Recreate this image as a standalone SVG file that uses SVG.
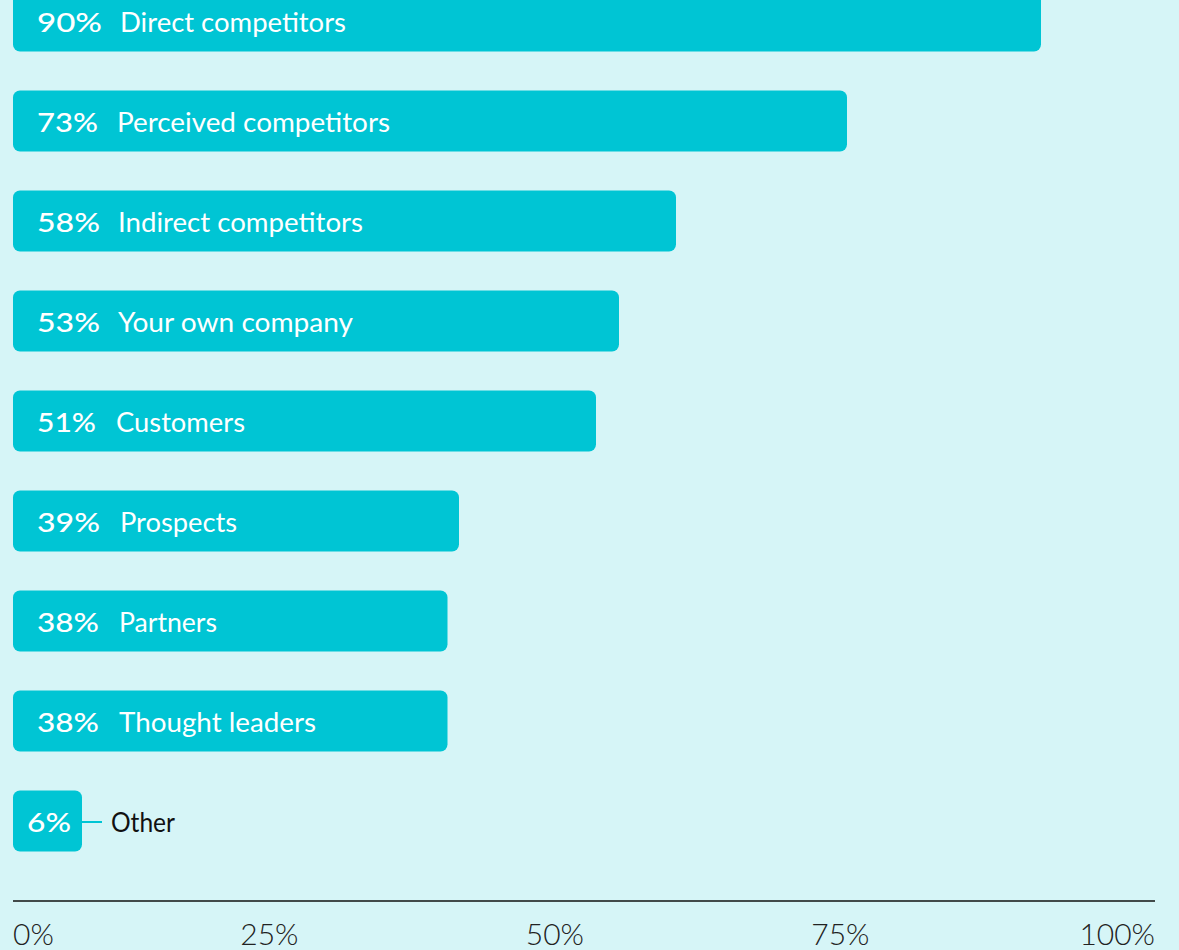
<svg xmlns="http://www.w3.org/2000/svg" width="1179" height="950" viewBox="0 0 1179 950">
<style>
.bg{fill:#d6f5f7}
.bar{fill:#00c5d4}
.pct{font-family:Lato,"Open Sans","Liberation Sans",sans-serif;font-size:27px;font-weight:500;fill:#ffffff}
.lbl{font-family:Lato,"Open Sans","Liberation Sans",sans-serif;font-size:26px;font-weight:400;fill:#ffffff}
.dark{fill:#111111}
.tick{font-family:Lato,"Open Sans","Liberation Sans",sans-serif;font-size:30px;font-weight:300;fill:#222222}
</style>
<rect class="bg" x="0" y="0" width="1179" height="950"/>
<g id="bar-direct"><rect class="bar" x="13" y="-9.5" width="1028" height="61" rx="7"/><text class="pct" x="37" y="31.5" textLength="65" lengthAdjust="spacingAndGlyphs">90%</text><text class="lbl" x="120" y="31.5" textLength="226" lengthAdjust="spacingAndGlyphs">Direct competitors</text></g>
<g id="bar-perceived"><rect class="bar" x="13" y="90.5" width="834" height="61" rx="7"/><text class="pct" x="37" y="131.5" textLength="61" lengthAdjust="spacingAndGlyphs">73%</text><text class="lbl" x="117" y="131.5" textLength="273" lengthAdjust="spacingAndGlyphs">Perceived competitors</text></g>
<g id="bar-indirect"><rect class="bar" x="13" y="190.5" width="663" height="61" rx="7"/><text class="pct" x="37" y="231.5" textLength="63" lengthAdjust="spacingAndGlyphs">58%</text><text class="lbl" x="118" y="231.5" textLength="245" lengthAdjust="spacingAndGlyphs">Indirect competitors</text></g>
<g id="bar-own"><rect class="bar" x="13" y="290.5" width="606" height="61" rx="7"/><text class="pct" x="37" y="331.5" textLength="63" lengthAdjust="spacingAndGlyphs">53%</text><text class="lbl" x="118" y="331.5" textLength="235" lengthAdjust="spacingAndGlyphs">Your own company</text></g>
<g id="bar-customers"><rect class="bar" x="13" y="390.5" width="583" height="61" rx="7"/><text class="pct" x="37" y="431.5" textLength="59" lengthAdjust="spacingAndGlyphs">51%</text><text class="lbl" x="116" y="431.5" textLength="129" lengthAdjust="spacingAndGlyphs">Customers</text></g>
<g id="bar-prospects"><rect class="bar" x="13" y="490.5" width="446" height="61" rx="7"/><text class="pct" x="37" y="531.5" textLength="63" lengthAdjust="spacingAndGlyphs">39%</text><text class="lbl" x="120" y="531.5" textLength="117" lengthAdjust="spacingAndGlyphs">Prospects</text></g>
<g id="bar-partners"><rect class="bar" x="13" y="590.5" width="434.5" height="61" rx="7"/><text class="pct" x="37" y="631.5" textLength="62" lengthAdjust="spacingAndGlyphs">38%</text><text class="lbl" x="119" y="631.5" textLength="98" lengthAdjust="spacingAndGlyphs">Partners</text></g>
<g id="bar-thought"><rect class="bar" x="13" y="690.5" width="434.5" height="61" rx="7"/><text class="pct" x="37" y="731.5" textLength="62" lengthAdjust="spacingAndGlyphs">38%</text><text class="lbl" x="119" y="731.5" textLength="197" lengthAdjust="spacingAndGlyphs">Thought leaders</text></g>
<g id="bar-other"><rect class="bar" x="13" y="790.5" width="69" height="61" rx="7"/><text class="pct" x="27" y="831.5" textLength="44" lengthAdjust="spacingAndGlyphs">6%</text><text class="lbl dark" x="111" y="831.5" textLength="64" lengthAdjust="spacingAndGlyphs">Other</text></g>
<g id="connectors"><line x1="82" y1="822" x2="102" y2="822" stroke="#00c5d4" stroke-width="2"/></g>
<g id="axis">
<line x1="13" y1="901" x2="1155" y2="901" stroke="#111111" stroke-width="1.5"/>
<text class="tick" x="13" y="945">0%</text>
<text class="tick" x="298.5" y="945" text-anchor="end">25%</text>
<text class="tick" x="584" y="945" text-anchor="end">50%</text>
<text class="tick" x="869.5" y="945" text-anchor="end">75%</text>
<text class="tick" x="1155" y="945" text-anchor="end">100%</text>
</g>
</svg>
